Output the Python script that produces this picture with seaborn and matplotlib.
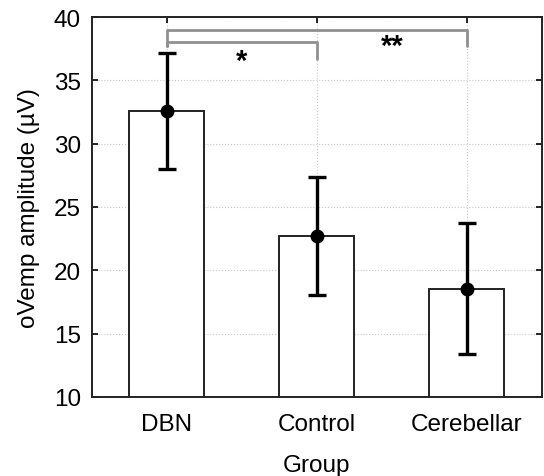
import pandas as pd
import matplotlib
matplotlib.use("Agg")
import matplotlib.pyplot as plt
import seaborn as sns

groups = ["DBN", "Control", "Cerebellar"]
means = [32.6, 22.7, 18.55]
errors = [4.6, 4.65, 5.15]

sns.set_style("ticks")
plt.rcParams["font.family"] = ["Liberation Sans", "DejaVu Sans"]
plt.rcParams["text.color"] = "black"
plt.rcParams["axes.labelcolor"] = "black"
plt.rcParams["xtick.color"] = "black"
plt.rcParams["ytick.color"] = "black"

df = pd.DataFrame({"Group": groups, "amp": means})

fig = plt.figure(figsize=(5.44, 4.77), dpi=100)
ax = fig.add_axes([0.169, 0.166, 0.827, 0.796])

sns.barplot(data=df, x="Group", y="amp", order=groups, color="white",
            edgecolor="#222222", linewidth=1.4, width=0.5, errorbar=None, ax=ax)
ax.errorbar(range(len(groups)), means, yerr=errors, fmt="o", color="black",
            ms=9, elinewidth=2.4, capsize=6.5, capthick=2.4, zorder=5)

# significance brackets
gray = "#909090"
ax.plot([0, 0, 2, 2], [37.75, 39.0, 39.0, 37.75], color=gray, lw=2, zorder=4)
ax.plot([0, 0, 1, 1], [37.75, 38.05, 38.05, 36.7], color=gray, lw=2, zorder=4)
ax.text(0.5, 36.5, "*", ha="center", va="center", fontsize=21, fontweight="bold")
ax.text(1.5, 37.7, "**", ha="center", va="center", fontsize=21, fontweight="bold")

ax.set_xlim(-0.5, 2.5)
ax.set_ylim(10, 40)
ax.set_yticks(range(10, 41, 5))
ax.grid(True, linestyle=":", color="#c8c8c8", linewidth=0.8)
ax.set_axisbelow(True)
ax.tick_params(direction="in", top=True, right=True, length=4, width=1.2,
               labelsize=17.5, pad=8)
ax.tick_params(axis="x", pad=12)
for s in ax.spines.values():
    s.set_linewidth(1.4)
    s.set_color("#222222")
ax.set_xlabel("Group", fontsize=17.5, labelpad=13)
ax.set_ylabel("oVemp amplitude (µV)", fontsize=17.5, labelpad=10)

fig.savefig("out.png", dpi=100)
